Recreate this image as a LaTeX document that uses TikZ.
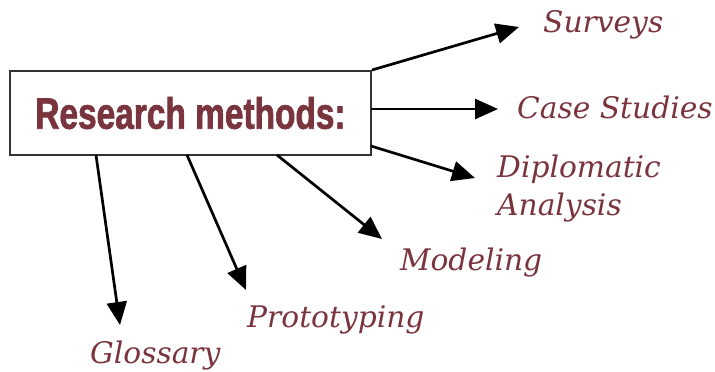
\documentclass[tikz,border=0pt]{standalone}
\usepackage{fontspec}
\usetikzlibrary{arrows.meta}
\newfontfamily\labfont{DejaVu Serif}
\newfontfamily\titfont[FakeStretch=0.76,FakeBold=1.5]{Liberation Sans Bold}
\definecolor{maroon}{RGB}{122,52,62}
\definecolor{boxgray}{RGB}{50,50,50}
\tikzset{
  box/.style={draw=boxgray, line width=2pt, fill=white, minimum width=361pt, minimum height=84pt, inner sep=0pt,
    font=\titfont\fontsize{44}{44}\selectfont, text=maroon},
  lab/.style={anchor=base west, inner sep=0pt, text=maroon, font=\labfont\itshape\fontsize{29.7}{38}\selectfont},
  arr/.style={line width=2.7pt, -{Triangle[length=23pt,width=20pt]}}
}
\begin{document}
\begin{tikzpicture}[x=1pt,y=-1pt]
\useasboundingbox (0,0) rectangle (715,372);
\node[box] (box) at (190.5,113) {Research methods:\hspace{17pt}};
\node[lab] (sur) at (543,32) {Surveys};
\node[lab] (cas) at (517,118) {Case Studies};
\node[lab, align=left] (dip) at (497,215) {Diplomatic\\Analysis};
\node[lab] (mod) at (400,270) {Modeling};
\node[lab] (pro) at (247,327) {Prototyping};
\node[lab] (glo) at (90,363) {Glossary};
\coordinate (tS) at (519,27);
\coordinate (sC) at (371,109);
\coordinate (tC) at (498,109);
\coordinate (sD) at (371,146);
\coordinate (tD) at (475,178);
\coordinate (sM) at (277,155);
\coordinate (tM) at (382,239);
\coordinate (sP) at (187,155);
\coordinate (tP) at (246,290);
\coordinate (sG) at (96,155);
\coordinate (tG) at (120,325);
\draw[arr] (box.north east) -- (tS);
\draw[arr] (sC) -- (tC);
\draw[arr] (sD) -- (tD);
\draw[arr] (sM) -- (tM);
\draw[arr] (sP) -- (tP);
\draw[arr] (sG) -- (tG);
\end{tikzpicture}
\end{document}
